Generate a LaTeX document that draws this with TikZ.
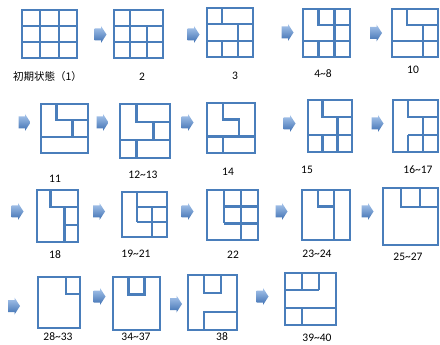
\documentclass[tikz,border=0pt]{standalone}
\usepackage{fontspec}
\setmainfont{Carlito}
\newfontfamily\jpfont{Noto Sans CJK JP}
\definecolor{wallBlue}{HTML}{4A7EBB}
\definecolor{arrowLight}{HTML}{A9C6EC}
\definecolor{arrowDark}{HTML}{3E70B2}
\tikzset{
  every node/.style={font=\fontsize{11.5}{13}\selectfont},
  wall/.style={draw=wallBlue, line width=2.4pt},
  partition/.style={draw=wallBlue, line width=2.2pt},
  arrowfill/.style={top color=arrowLight, bottom color=arrowDark, draw=none},
  steplabel/.style={inner sep=1pt},
}
% a floor plan: top left corner, width, height, then the partitions
% in the plan's own units (0,0) top left .. (1,1) bottom right
\newcommand{\plan}[5]{%
  \begin{scope}[shift={(#1,#2)}, x={(#3pt,0pt)}, y={(0pt,-#4pt)}]
    \draw[wall] (0,0) rectangle (1,1);
    \draw[partition] #5;
  \end{scope}}
\newcommand{\stepArrow}[2]{%
  \shade[arrowfill] (#1-6,#2-6) -- (#1+0.5,#2-6) -- (#1+0.5,#2-8.5)
    -- (#1+6,#2) -- (#1+0.5,#2+8.5) -- (#1+0.5,#2+6) -- (#1-6,#2+6) -- cycle;}

\begin{document}
\begin{tikzpicture}[x=1pt, y=-1pt]
\useasboundingbox (0,0) rectangle (440,345);

% ---------------------------------------------------------- the first row
\plan{22}{10}{55}{48}{(0.33,0) -- (0.33,1) (0.67,0) -- (0.67,1)
  (0,0.33) -- (1,0.33) (0,0.67) -- (1,0.67)}
\plan{114}{10}{49}{48}{(0.33,0) -- (0.33,1) (0.67,0.33) -- (0.67,1)
  (0,0.33) -- (1,0.33) (0,0.67) -- (1,0.67)}
\plan{207}{8}{46}{49}{(0.33,0) -- (0.33,0.33) (0.67,0.33) -- (0.67,0.67)
  (0.33,0.67) -- (0.33,1) (0.67,0.67) -- (0.67,1)
  (0,0.33) -- (1,0.33) (0,0.67) -- (1,0.67)}
\plan{303}{9}{47}{48}{(0.33,0) -- (0.33,0.33) -- (1,0.33) (0.67,0) -- (0.67,1)
  (0,0.67) -- (1,0.67) (0.33,0.67) -- (0.33,1)}
\plan{392}{9}{46}{48}{(0.33,0) -- (0.33,0.33) -- (1,0.33) (0.67,0.33) -- (0.67,1)
  (0,0.67) -- (1,0.67)}

\stepArrow{100.5}{34.5}
\stepArrow{193.5}{34.5}
\stepArrow{287.5}{32.5}
\stepArrow{376}{33}

\node[steplabel, font=\jpfont\fontsize{10.5}{12}\selectfont] (s1) at (47.5,77) {初期状態（1）};
\node[steplabel] (s2) at (142,77) {2};
\node[steplabel] (s3) at (235,76) {3};
\node[steplabel] (s4) at (323,74) {4\textasciitilde8};
\node[steplabel] (s10) at (413,70) {10};

% --------------------------------------------------------- the second row
\plan{41}{104}{47}{49}{(0.33,0) -- (0.33,0.33) -- (1,0.33) (0.67,0.33) -- (0.67,0.67)
  (0,0.67) -- (1,0.67)}
\plan{120}{104}{50}{54}{(0.33,0) -- (0.33,0.33) -- (1,0.33) (0.67,0.33) -- (0.67,0.67)
  (0,0.67) -- (1,0.67) (0.33,0.67) -- (0.33,1)}
\plan{207}{103}{48}{50}{(0.33,0) -- (0.33,0.33) -- (0.67,0.33) -- (0.67,0.67)
  (0,0.67) -- (1,0.67) (0.33,0.67) -- (0.33,1)}
\plan{308}{100}{44}{52}{(0.33,0) -- (0.33,0.33) -- (1,0.33) (0.67,0.33) -- (0.67,1)
  (0,0.67) -- (1,0.67) (0.33,0.67) -- (0.33,1)}
\plan{393}{100}{45}{52}{(0.33,0) -- (0.33,0.33) -- (1,0.33) (0.67,0.33) -- (0.67,1)
  (0.33,0.67) -- (1,0.67) (0.33,0.67) -- (0.33,1)}

\stepArrow{24.5}{122.5}
\stepArrow{102.5}{122.5}
\stepArrow{187.5}{122.5}
\stepArrow{289.5}{123.5}
\stepArrow{377.5}{123.5}

\node[steplabel] (s11) at (55,179) {11};
\node[steplabel] (s12) at (143,175) {12\textasciitilde13};
\node[steplabel] (s14) at (228,172) {14};
\node[steplabel] (s15) at (307,170) {15};
\node[steplabel] (s16) at (418,170) {16\textasciitilde17};

% ---------------------------------------------------------- the third row
\plan{37}{190}{41}{52}{(0.33,0) -- (0.33,0.33) -- (1,0.33) (0.67,0.33) -- (0.67,1)
  (0.67,0.67) -- (1,0.67)}
\plan{122}{192}{45}{45}{(0.33,0) -- (0.33,0.67) (0.33,0.33) -- (1,0.33)
  (0.33,0.67) -- (1,0.67) (0.67,0.33) -- (0.67,1)}
\plan{207}{190}{51}{50}{(0.33,0) -- (0.33,0.67) (0.67,0) -- (0.67,1)
  (0.33,0.33) -- (1,0.33) (0.33,0.67) -- (1,0.67)}
\plan{302}{190}{48}{50}{(0.33,0) -- (0.33,0.33) -- (0.67,0.33) (0.67,0) -- (0.67,1)}
\plan{383}{188}{55}{57}{(0.33,0) -- (0.33,0.33) -- (1,0.33) (0.67,0) -- (0.67,0.33)}

\stepArrow{17.5}{211.5}
\stepArrow{99}{211.5}
\stepArrow{187.5}{211.5}
\stepArrow{281.5}{211.5}
\stepArrow{367.5}{211.5}

\node[steplabel] (s18) at (55,255) {18};
\node[steplabel] (s19) at (136,254) {19\textasciitilde21};
\node[steplabel] (s22) at (233,255) {22};
\node[steplabel] (s23) at (317,254) {23\textasciitilde24};
\node[steplabel] (s25) at (408,257) {25\textasciitilde27};

% --------------------------------------------------------- the fourth row
\plan{38}{277}{42}{51}{(0.67,0) -- (0.67,0.33) -- (1,0.33)}
\plan{113}{277}{47}{53}{(0.33,0) -- (0.33,0.33) -- (0.67,0.33) -- (0.67,0)}
\plan{188}{275}{49}{55}{(0.33,0) -- (0.33,0.33) -- (0.67,0.33) -- (0.67,0)
  (0.33,1) -- (0.33,0.67) -- (1,0.67)}
\plan{285}{273}{51}{52}{(0.33,0) -- (0.33,0.33) (0.67,0) -- (0.67,0.33)
  (0,0.33) -- (0.67,0.33) (0,0.67) -- (1,0.67) (0.33,0.67) -- (0.33,1)}

\stepArrow{14}{306}
\stepArrow{99.5}{296.5}
\stepArrow{176}{304}
\stepArrow{262.5}{296.5}

\node[steplabel] (s28) at (58,337) {28\textasciitilde33};
\node[steplabel] (s34) at (136,337) {34\textasciitilde37};
\node[steplabel] (s38) at (222,337) {38};
\node[steplabel] (s39) at (317,338) {39\textasciitilde40};

\end{tikzpicture}
\end{document}
